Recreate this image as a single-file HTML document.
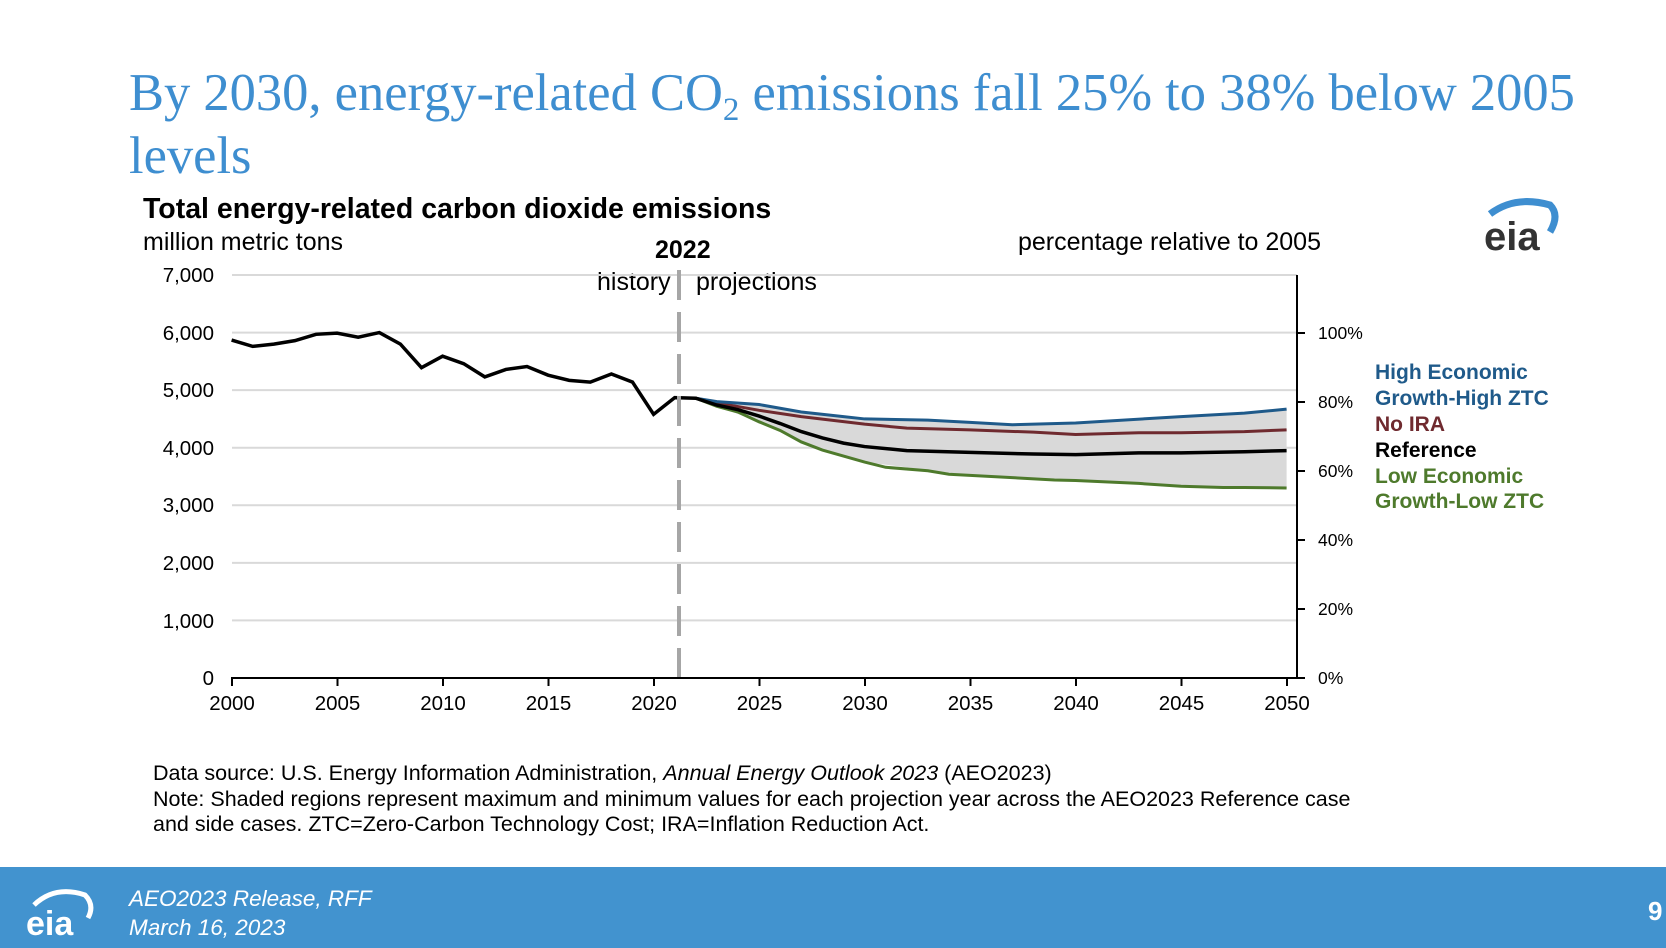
<!DOCTYPE html>
<html><head><meta charset="utf-8"><style>
body{margin:0;width:1666px;height:948px;position:relative;background:#fff;overflow:hidden;font-family:"Liberation Sans",Arial,sans-serif}
.t{position:absolute;white-space:nowrap}
sub{line-height:0}
</style></head><body>
<div class="t" style="left:129px;top:62px;font-family:'Liberation Serif',serif;font-size:52.5px;color:#3e8ed0;line-height:63px">By 2030, energy-related CO<sub style="font-size:33px;vertical-align:-10px">2</sub> emissions fall 25% to 38% below 2005<br>levels</div>
<div class="t" style="left:143px;top:193px;font-size:28.5px;font-weight:bold">Total energy-related carbon dioxide emissions</div>
<div class="t" style="left:143px;top:228px;font-size:25px">million metric tons</div>
<div class="t" style="left:1018px;top:228px;font-size:25px">percentage relative to 2005</div>
<div class="t" style="left:655px;top:236px;font-size:25px;font-weight:bold">2022</div>
<div class="t" style="left:597px;top:268px;font-size:25px">history</div>
<div class="t" style="left:696px;top:268px;font-size:25px">projections</div>
<svg width="1666" height="948" style="position:absolute;left:0;top:0">
<g stroke="#d9d9d9" stroke-width="2">
<line x1="232" x2="1297" y1="275" y2="275"/><line x1="232" x2="1297" y1="332.6" y2="332.6"/><line x1="232" x2="1297" y1="390.1" y2="390.1"/><line x1="232" x2="1297" y1="447.7" y2="447.7"/><line x1="232" x2="1297" y1="505.3" y2="505.3"/><line x1="232" x2="1297" y1="562.9" y2="562.9"/><line x1="232" x2="1297" y1="620.4" y2="620.4"/>
</g>
<g transform="translate(231.6,678) scale(21.1,-0.05757)">
<polygon fill="#d9d9d9" points="22,4860 23,4800 25,4750 27,4620 30,4500 33,4480 35,4440 37,4400 40,4430 45,4540 50,4670 50,3300 47,3310 45,3330 43,3380 40,3430 35,3520 30,3750 27,4100 25,4450 23,4720"/>
<polyline fill="none" stroke="#6f2a2f" stroke-width="3" vector-effect="non-scaling-stroke" points="22,4860 23,4780 25,4650 27,4540 30,4410 32,4340 35,4310 38,4270 40,4230 43,4260 45,4260 48,4280 50,4310"/>
<polyline fill="none" stroke="#1f5a8a" stroke-width="3" vector-effect="non-scaling-stroke" points="22,4860 23,4800 25,4750 27,4620 29,4540 30,4500 33,4480 35,4440 37,4400 40,4430 45,4540 48,4600 50,4670"/>
<polyline fill="none" stroke="#4e7a2c" stroke-width="3" vector-effect="non-scaling-stroke" points="22,4860 23,4720 24,4620 25,4450 26,4300 27,4100 28,3960 30,3750 31,3660 33,3600 34,3540 35,3520 37,3480 39,3440 40,3430 43,3380 45,3330 47,3310 48,3310 50,3300"/>
<polyline fill="none" stroke="#000" stroke-width="3.5" vector-effect="non-scaling-stroke" points="0,5870 1,5760 2,5800 3,5860 4,5970 5,5990 6,5920 7,6000 8,5800 9,5390 10,5590 11,5460 12,5230 13,5360 14,5410 15,5260 16,5170 17,5140 18,5280 19,5140 20,4580 21,4870 22,4860 23,4740 24,4660 25,4550 26,4420 27,4280 28,4170 29,4080 30,4020 32,3950 35,3920 38,3890 40,3880 43,3910 45,3910 48,3930 50,3950"/>
</g>
<line x1="679" x2="679" y1="270" y2="678" stroke="#a6a6a6" stroke-width="4" stroke-dasharray="30,12"/>
<line x1="231" x2="1297" y1="678" y2="678" stroke="#000" stroke-width="2"/>
<line x1="1297" x2="1297" y1="275" y2="678" stroke="#000" stroke-width="2"/>
<g stroke="#000" stroke-width="2">
<line x1="232" x2="232" y1="678" y2="686"/><line x1="337.5" x2="337.5" y1="678" y2="686"/><line x1="443" x2="443" y1="678" y2="686"/><line x1="548.5" x2="548.5" y1="678" y2="686"/><line x1="654" x2="654" y1="678" y2="686"/><line x1="759.5" x2="759.5" y1="678" y2="686"/><line x1="865" x2="865" y1="678" y2="686"/><line x1="970.5" x2="970.5" y1="678" y2="686"/><line x1="1076" x2="1076" y1="678" y2="686"/><line x1="1181.5" x2="1181.5" y1="678" y2="686"/><line x1="1287" x2="1287" y1="678" y2="686"/>
<line x1="1297" x2="1305" y1="678" y2="678"/><line x1="1297" x2="1305" y1="609" y2="609"/><line x1="1297" x2="1305" y1="540" y2="540"/><line x1="1297" x2="1305" y1="471" y2="471"/><line x1="1297" x2="1305" y1="402" y2="402"/><line x1="1297" x2="1305" y1="333" y2="333"/>
</g>
<g font-size="20.5" font-family="Liberation Sans,Arial,sans-serif" text-anchor="end">
<text x="214" y="282">7,000</text><text x="214" y="340">6,000</text><text x="214" y="397">5,000</text><text x="214" y="455">4,000</text><text x="214" y="512">3,000</text><text x="214" y="570">2,000</text><text x="214" y="628">1,000</text><text x="214" y="685">0</text>
</g>
<g font-size="17.5" font-family="Liberation Sans,Arial,sans-serif">
<text x="1318" y="684">0%</text><text x="1318" y="615">20%</text><text x="1318" y="546">40%</text><text x="1318" y="477">60%</text><text x="1318" y="408">80%</text><text x="1318" y="339">100%</text>
</g>
<g font-size="20.5" font-family="Liberation Sans,Arial,sans-serif" text-anchor="middle">
<text x="232" y="710">2000</text><text x="337.5" y="710">2005</text><text x="443" y="710">2010</text><text x="548.5" y="710">2015</text><text x="654" y="710">2020</text><text x="759.5" y="710">2025</text><text x="865" y="710">2030</text><text x="970.5" y="710">2035</text><text x="1076" y="710">2040</text><text x="1181.5" y="710">2045</text><text x="1287" y="710">2050</text>
</g>
<g font-size="21" font-weight="bold" font-family="Liberation Sans,Arial,sans-serif">
<text x="1375" y="379" fill="#1f5a8a">High Economic</text><text x="1375" y="405" fill="#1f5a8a">Growth-High ZTC</text>
<text x="1375" y="431" fill="#6f2a2f">No IRA</text><text x="1375" y="457" fill="#000">Reference</text>
<text x="1375" y="483" fill="#4e7a2c">Low Economic</text><text x="1375" y="508" fill="#4e7a2c">Growth-Low ZTC</text>
</g>
<path d="M1490 214 Q1515 195 1550 205 Q1560 215 1550 232" fill="none" stroke="#3e8ed0" stroke-width="7"/>
<text x="1484" y="250" font-size="40" font-weight="bold" fill="#333" font-family="Liberation Sans,sans-serif">eia</text>
<rect x="0" y="867" width="1666" height="81" fill="#4293cf"/>
<path d="M34 905 Q55 885 85 895 Q95 905 88 918" fill="none" stroke="#fff" stroke-width="5"/>
<text x="26" y="935" font-size="34" font-weight="bold" fill="#fff" font-family="Liberation Sans,sans-serif">eia</text>
<text x="1648" y="920" font-size="26" font-weight="bold" fill="#fff" font-family="Liberation Sans,sans-serif">9</text>
</svg>
<div class="t" style="left:153px;top:761px;font-size:21.5px;line-height:25.5px">Data source: U.S. Energy Information Administration, <i>Annual Energy Outlook 2023</i> (AEO2023)<br>Note: Shaded regions represent maximum and minimum values for each projection year across the AEO2023 Reference case<br>and side cases. ZTC=Zero-Carbon Technology Cost; IRA=Inflation Reduction Act.</div>
<div class="t" style="left:129px;top:884px;font-size:22.5px;font-style:italic;color:#fff;line-height:29px">AEO2023 Release, RFF<br>March 16, 2023</div>
</body></html>
